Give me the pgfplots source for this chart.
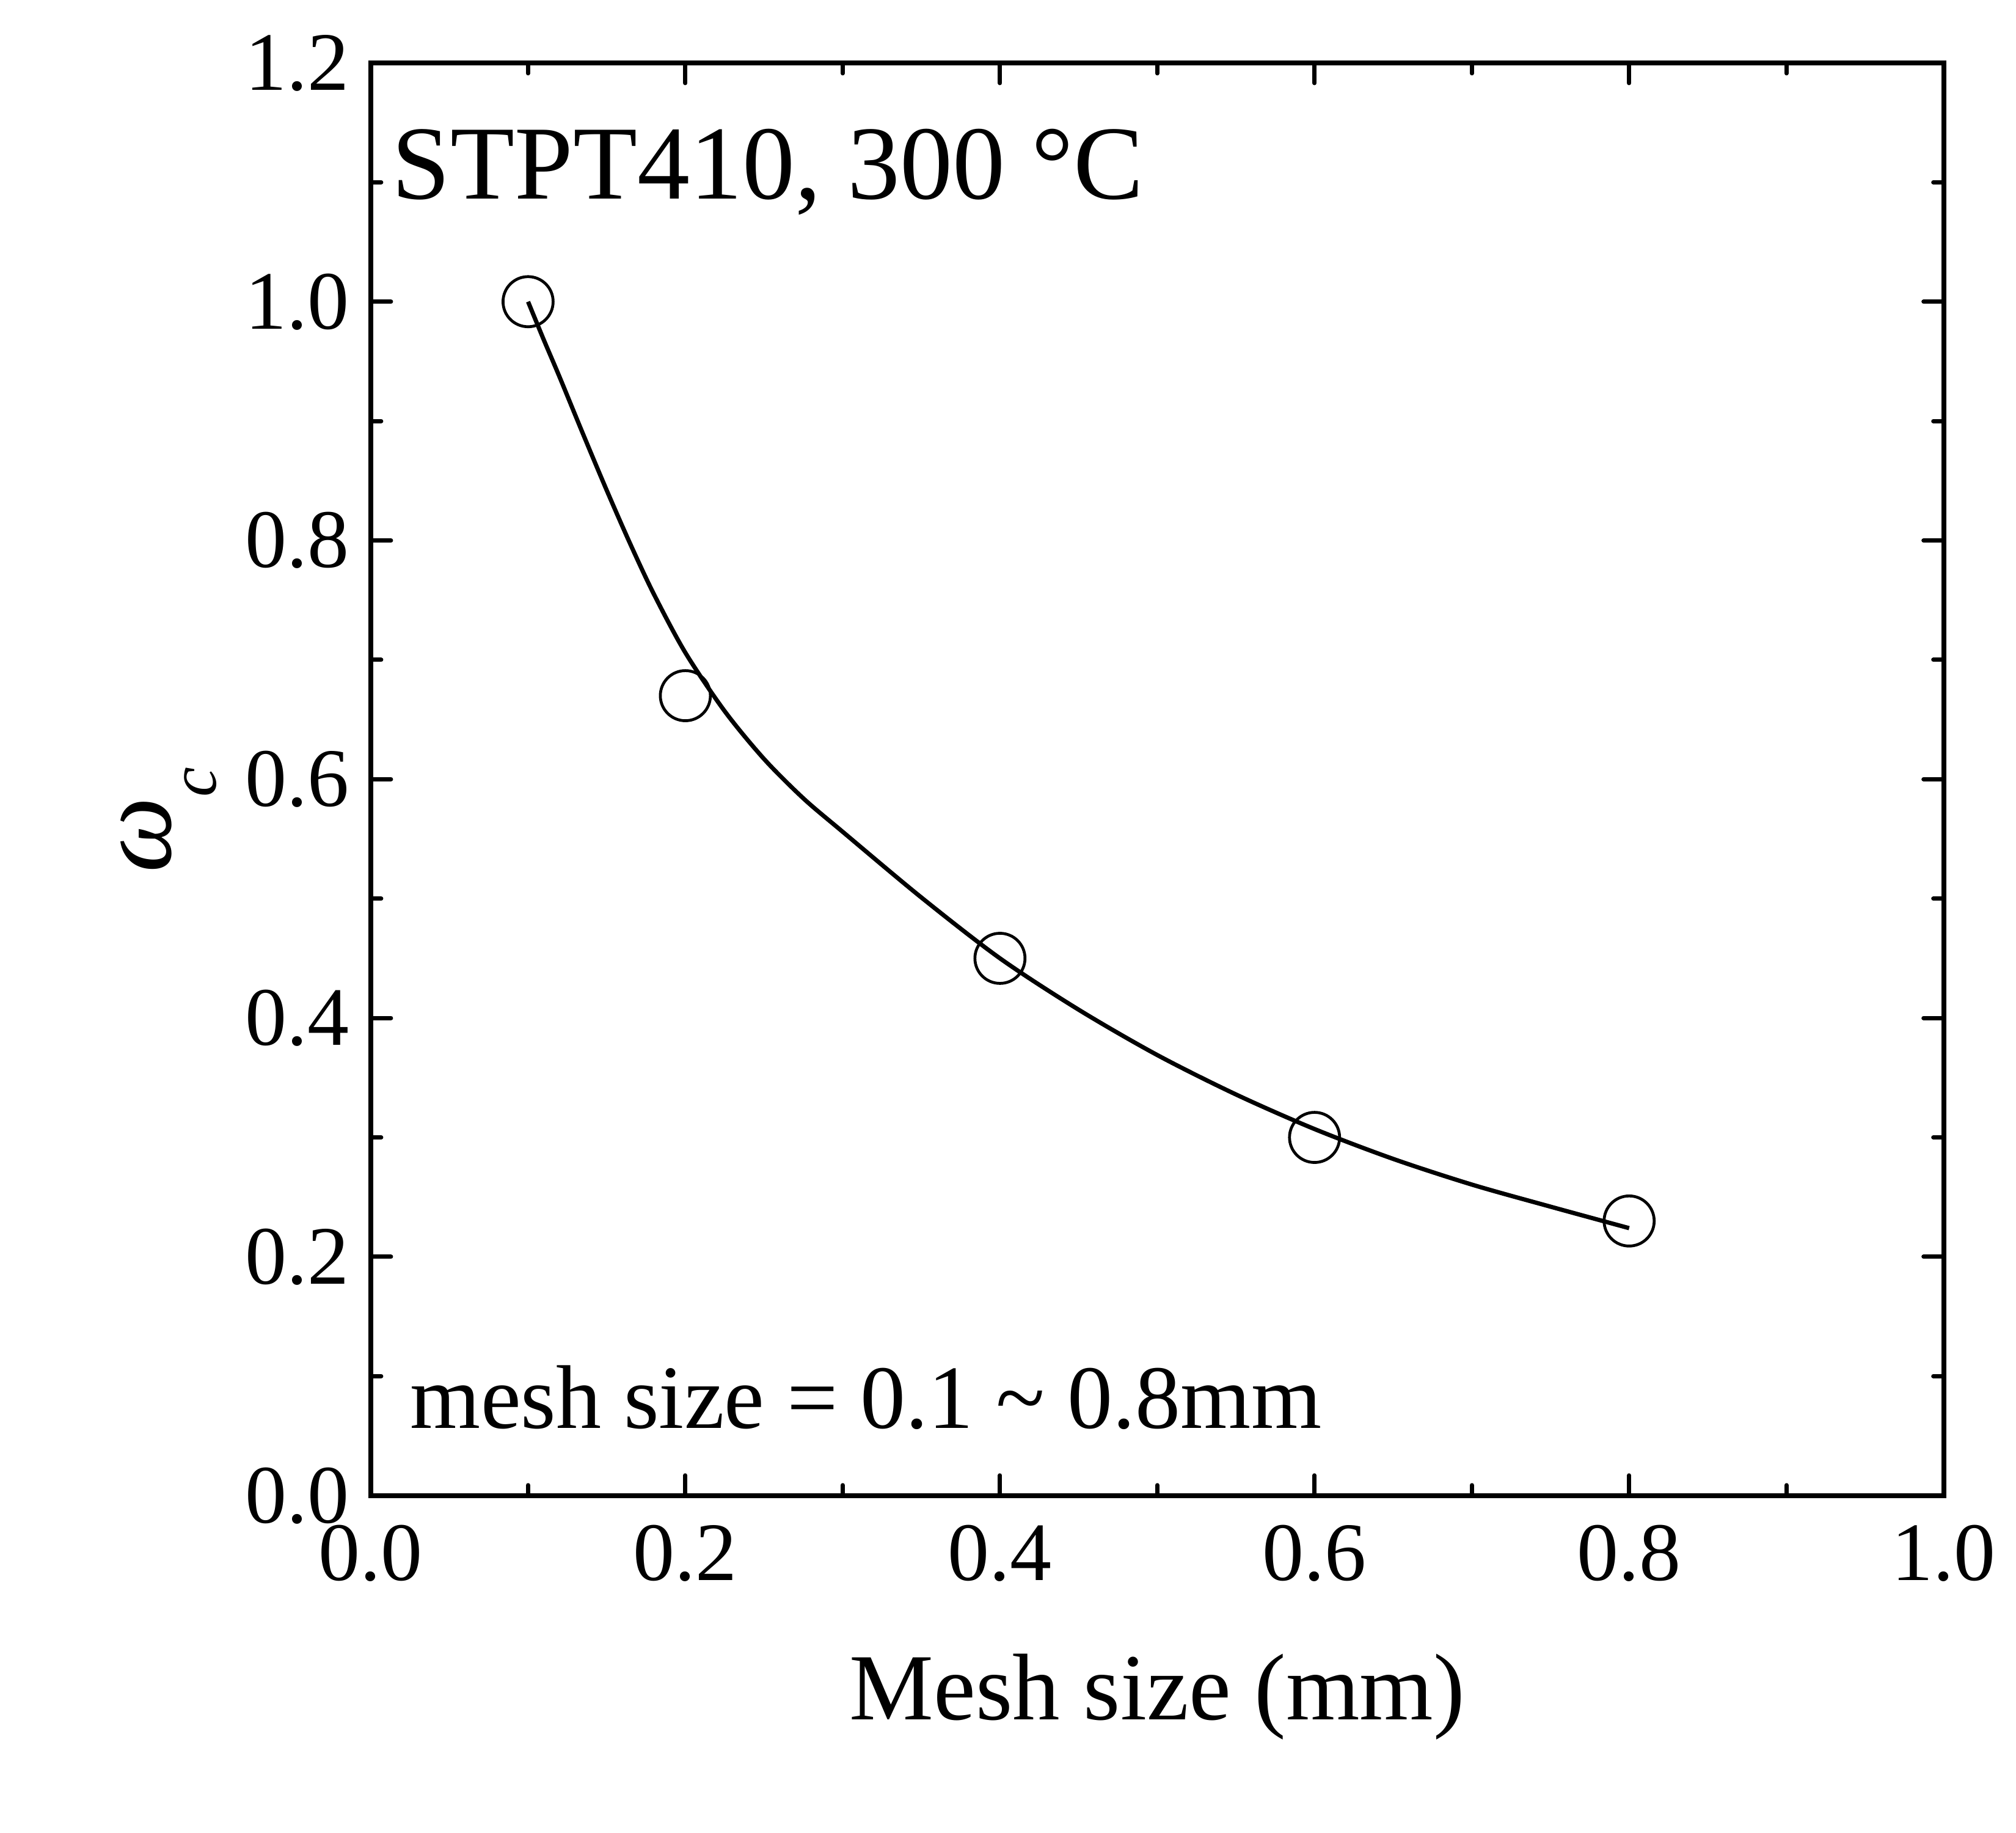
\documentclass[border=0pt]{standalone}
\usepackage{fontspec}
\setmainfont{Liberation Serif}
\usepackage{pgfplots}
\pgfplotsset{compat=1.18}
\begin{document}
\begin{tikzpicture}
\begin{axis}[
  scale only axis, width=257.5pt, height=234.5pt,
  xmin=0, xmax=1, ymin=0, ymax=1.2,
  xtick={0,0.2,0.4,0.6,0.8,1.0},
  ytick={0,0.2,0.4,0.6,0.8,1.0,1.2},
  minor x tick num=1, minor y tick num=1,
  tick align=inside, tick pos=both,
  major tick length=3.3pt, minor tick length=1.7pt,
  every tick/.style={black, line width=0.7pt, line cap=round},
  axis line style={line width=0.8pt},
  /pgf/number format/fixed,
  /pgf/number format/fixed zerofill,
  /pgf/number format/precision=1,
  /pgf/number format/assume math mode=true,
  tick label style={font=\fontsize{13.6pt}{16pt}\selectfont},
  xticklabel style={yshift=-1.3pt},
  xlabel={Mesh size (mm)},
  xlabel style={font=\fontsize{15.5pt}{18pt}\selectfont, at={(axis description cs:0.5,0)}, anchor=base, yshift=-36.7pt},
]
\addplot[black, line width=0.7pt, smooth, tension=0.5] coordinates {
(0.100,1.000) (0.110,0.968) (0.120,0.937) (0.135,0.889) (0.150,0.842)
(0.165,0.797) (0.180,0.755) (0.200,0.706) (0.225,0.657) (0.250,0.617)
(0.275,0.584) (0.300,0.556) (0.350,0.501) (0.400,0.450) (0.450,0.407)
(0.500,0.369) (0.550,0.336) (0.600,0.307) (0.650,0.282) (0.700,0.2605)
(0.750,0.242) (0.800,0.224)};
\addplot[only marks, mark=o, mark size=4.1pt, mark options={black, line width=0.47pt}] coordinates {
(0.1,1.00) (0.2,0.67) (0.4,0.45) (0.6,0.30) (0.8,0.23)};
\end{axis}
\node[anchor=base west, inner sep=0pt, font=\fontsize{17.2pt}{20pt}\selectfont] at ([xshift=3.3pt,yshift=-22.3pt]current axis.north west) {STPT410, 300 °C};
\node[anchor=base west, inner sep=0pt, font=\fontsize{14.8pt}{18pt}\selectfont] at ([xshift=6.3pt,yshift=11pt]current axis.south west) {mesh size = 0.1 \textasciitilde{} 0.8mm};
\node[rotate=90, anchor=base, inner sep=0pt] at ([xshift=-32.7pt,yshift=-6.7pt]current axis.west) {\fontsize{17.5pt}{20pt}\selectfont\itshape ω\raisebox{-0.42em}{\fontsize{11pt}{13pt}\selectfont c}};
\path ([xshift=-60.7pt,yshift=-55.2pt]current axis.south west) rectangle ([xshift=11.8pt,yshift=10.3pt]current axis.north east);
\end{tikzpicture}
\end{document}
